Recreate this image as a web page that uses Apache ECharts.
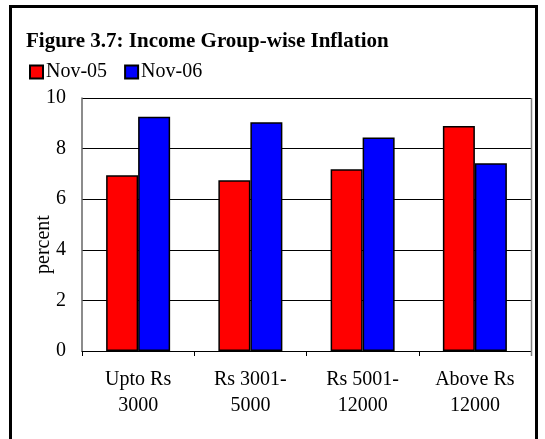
<!DOCTYPE html>
<html><head><meta charset="utf-8">
<script src="https://cdn.jsdelivr.net/npm/echarts@6/dist/echarts.min.js"></script>
<style>html,body{margin:0;padding:0;background:#fff}#c{width:545px;height:439px}</style>
</head><body><div id="c"></div>
<script>
var categories = ['Upto Rs\n3000', 'Rs 3001-\n5000', 'Rs 5001-\n12000', 'Above Rs\n12000'];
var nov05 = [6.95, 6.75, 7.18, 8.89];
var nov06 = [9.26, 9.04, 8.44, 7.42];
var yTicks = [0, 2, 4, 6, 8, 10];
var title = 'Figure 3.7: Income Group-wise Inflation';
var seriesNames = ['Nov-05', 'Nov-06'];

var font = '"Liberation Serif", "Times New Roman", serif';
var chart = echarts.init(document.getElementById('c'), null, {renderer: 'canvas'});
chart.setOption({
  backgroundColor: '#fff',
  animation: false,
  graphic: [{
    type: 'rect', shape: {x: 10.5, y: 6.5, width: 526, height: 450},
    style: {fill: 'none', stroke: '#000', lineWidth: 3}, z: 100
  }, {
    type: 'line', shape: {x1: 531.5, y1: 98, x2: 531.5, y2: 356},
    style: {stroke: '#808080', lineWidth: 1.5}, z: 50
  }],
  title: {
    text: title, left: 21, top: 26,
    textStyle: {fontFamily: font, fontWeight: 'bold', fontSize: 21, color: '#000'}
  },
  legend: {
    data: seriesNames, left: 24, top: 57, itemWidth: 13, itemHeight: 13, itemGap: 17,
    icon: 'rect',
    textStyle: {fontFamily: font, fontSize: 20, color: '#000', padding: [0, 0, 0, -2]}
  },
  grid: {left: 82, right: 14, top: 98, bottom: 88},
  xAxis: {
    type: 'category', data: categories,
    axisLine: {lineStyle: {color: '#000', width: 1}},
    axisTick: {show: true, length: 5, lineStyle: {color: '#000'}},
    axisLabel: {fontFamily: font, fontSize: 20, color: '#000', lineHeight: 26, margin: 16}
  },
  yAxis: {
    type: 'value', min: 0, max: 10, interval: 2,
    name: 'percent', nameLocation: 'middle', nameGap: 28, nameRotate: 90,
    nameMoveOverlap: false,
    nameTextStyle: {fontFamily: font, fontSize: 20, color: '#000', padding: [0, 40, 0, 0]},
    axisLine: {show: true, lineStyle: {color: '#666', width: 1.5}},
    axisTick: {show: false},
    axisLabel: {fontFamily: font, fontSize: 20, color: '#000', margin: 16,
      formatter: function (v) { return yTicks.indexOf(v) >= 0 ? String(v) : ''; }},
    splitLine: {show: true, lineStyle: {color: '#000', width: 1}}
  },
  series: [
    {name: seriesNames[0], type: 'bar', data: nov05, barWidth: 32, barGap: '0%',
      itemStyle: {color: '#ff0000', borderColor: '#000', borderWidth: 1.5}},
    {name: seriesNames[1], type: 'bar', data: nov06, barWidth: 32,
      itemStyle: {color: '#0000ff', borderColor: '#000', borderWidth: 1.5}}
  ]
});
</script></body></html>
